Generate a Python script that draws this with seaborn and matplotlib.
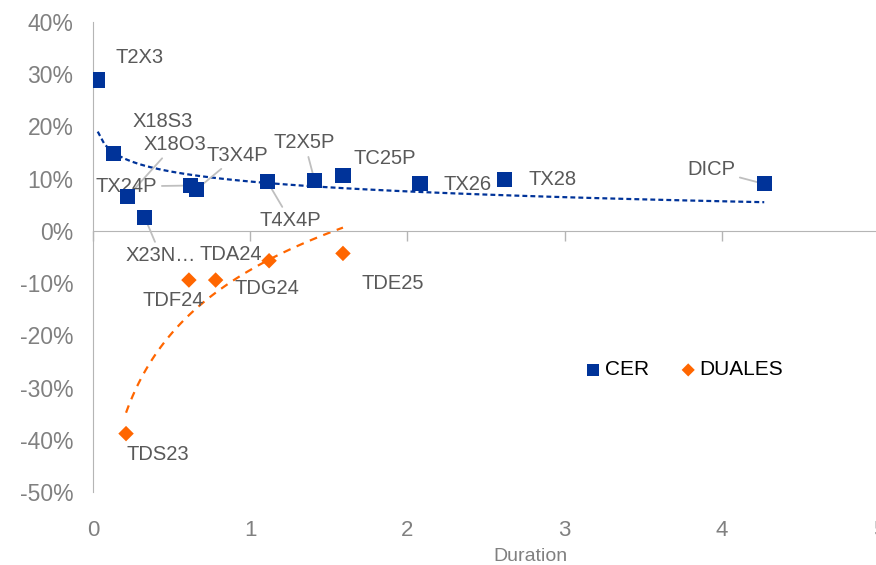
import numpy as np
import pandas as pd
import matplotlib
matplotlib.use("Agg")
import matplotlib.pyplot as plt
import seaborn as sns
from matplotlib.ticker import FuncFormatter

# CER series
cer_names = ["T2X3", "X18S3", "X18O3", "TX24P", "T3X4P", "T4X4P",
             "T2X5P", "TC25P", "TX26", "TX28", "DICP", "X23N…"]
cer_dur = [0.03, 0.13, 0.22, 0.62, 0.66, 1.11, 1.41, 1.59, 2.08, 2.62, 4.27, 0.33]
cer_ret = [28.9, 14.9, 6.6, 8.7, 8.0, 9.4, 9.6, 10.7, 9.1, 9.8, 9.0, 2.5]
# label offsets in pixels, and whether Excel drew a leader line
cer_off = [(42, 23), (49, 32), (47, 52), (-64, -1), (41, 34), (23, -39),
           (-10, 38), (42, 17), (48, -1), (48, 0), (-53, 14), (16, -38)]
cer_lead = [False, False, True, True, True, True, True, False, False, False, True, True]

# DUALES series
dua_names = ["TDS23", "TDF24", "TDG24", "TDA24", "TDE25"]
dua_dur = [0.21, 0.61, 0.78, 1.12, 1.59]
dua_ret = [-38.8, -9.4, -9.4, -5.7, -4.3]
dua_off = [(32, -21), (-16, -20), (51, -8), (-38, 6), (50, -30)]

yticks = [-50, -40, -30, -20, -10, 0, 10, 20, 30, 40]
xticks = [0, 1, 2, 3, 4, 5]

BLUE = "#003399"
ORANGE = "#FF6600"
LBL = "#595959"
AXC = "#B5B5B5"
TCK = "#808080"

sns.set_style("white")
plt.rcParams["font.family"] = ["Liberation Sans", "DejaVu Sans"]

cer = pd.DataFrame({"dur": cer_dur, "ret": cer_ret})
dua = pd.DataFrame({"dur": dua_dur, "ret": dua_ret})

fig = plt.figure(figsize=(8.76, 5.65), dpi=100)
ax = fig.add_axes([0.1062, 0.129, 0.8972, 0.832])

# log trendlines (Excel style)
sns.regplot(data=cer, x="dur", y="ret", logx=True, scatter=False, ci=None, ax=ax,
            line_kws=dict(color=BLUE, lw=1.6, dashes=(2.2, 1.4)))
sns.regplot(data=dua, x="dur", y="ret", logx=True, scatter=False, ci=None, ax=ax,
            line_kws=dict(color=ORANGE, lw=1.6, dashes=(3.5, 3.0)))

sns.scatterplot(data=cer, x="dur", y="ret", marker="s", s=118, color=BLUE,
                edgecolor="none", label="CER", ax=ax, zorder=5)
sns.scatterplot(data=dua, x="dur", y="ret", marker="D", s=62, color=ORANGE,
                edgecolor="none", label="DUALES", ax=ax, zorder=5)

lead = dict(arrowstyle="-", color="#BFBFBF", lw=1.3, shrinkA=1, shrinkB=0)
for n, x, y, off, ld in zip(cer_names, cer_dur, cer_ret, cer_off, cer_lead):
    ax.annotate(n, (x, y), xytext=off, textcoords="offset pixels", ha="center",
                va="center", fontsize=14.5, color=LBL,
                arrowprops=lead if ld else None, zorder=4)
for n, x, y, off in zip(dua_names, dua_dur, dua_ret, dua_off):
    ax.annotate(n, (x, y), xytext=off, textcoords="offset pixels", ha="center",
                va="center", fontsize=14.5, color=LBL, zorder=4)

ax.set_xlim(0, 5)
ax.set_ylim(-50, 40)
ax.set_yticks(yticks)
ax.yaxis.set_major_formatter(FuncFormatter(lambda v, p: f"{v:.0f}%"))
ax.tick_params(axis="y", length=0, labelsize=16.5, labelcolor=TCK, pad=14)
ax.set_xlabel("")
ax.set_ylabel("")

# x axis line sits on 0%, with its ticks pointing down
ax.set_xticks(xticks)
ax.spines["bottom"].set_position(("data", 0))
ax.spines["bottom"].set_color(AXC)
ax.spines["left"].set_color(AXC)
ax.spines["top"].set_visible(False)
ax.spines["right"].set_visible(False)
ax.tick_params(axis="x", direction="out", length=7, width=1, color=AXC,
               labelbottom=False, bottom=True)

# tick labels at the bottom of the plot area
sec = ax.secondary_xaxis("bottom")
sec.set_xticks(xticks)
sec.spines["bottom"].set_visible(False)
sec.tick_params(length=0, pad=20, labelsize=16, labelcolor=TCK)
ax.text(0.557, -0.138, "Duration", transform=ax.transAxes, ha="center",
        va="center", fontsize=14, color=TCK)

leg = ax.legend(loc="center", bbox_to_anchor=(0.752, 0.26), ncol=2, frameon=False,
                fontsize=15, handlelength=0.8, handletextpad=0.15,
                columnspacing=1.5, markerscale=0.85, labelcolor="black")

fig.savefig("out.png", dpi=100)
